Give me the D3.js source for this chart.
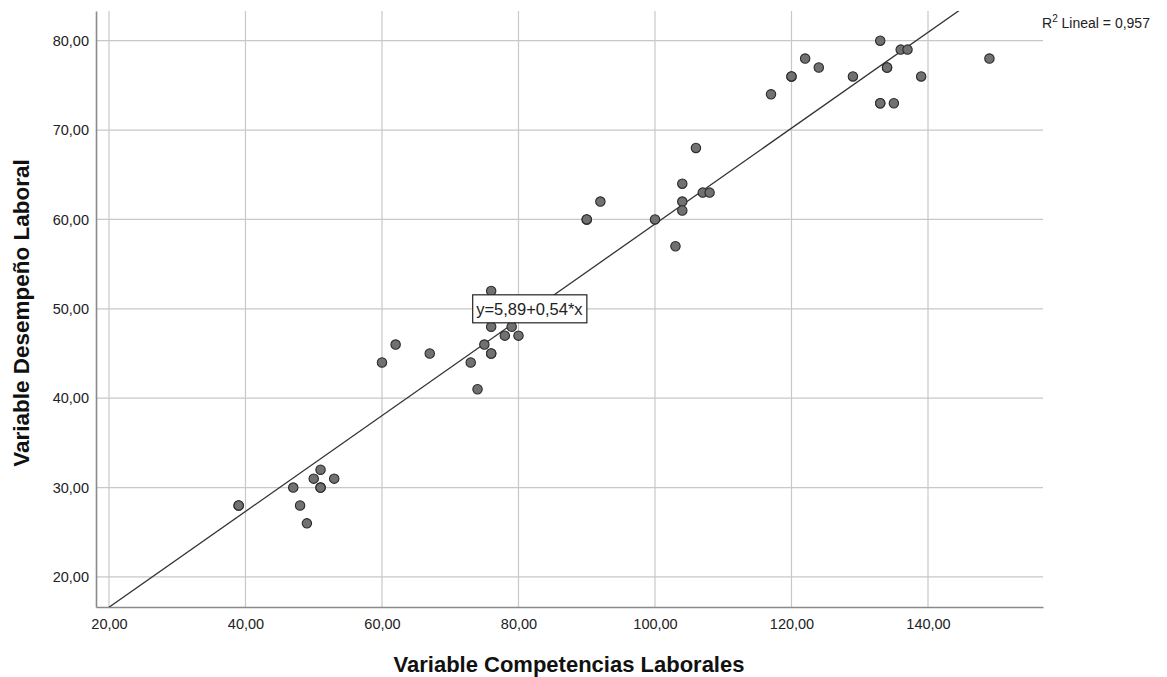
<!DOCTYPE html>
<html>
<head>
<meta charset="utf-8">
<script src="https://cdn.jsdelivr.net/npm/d3@7"></script>
<style>
  html, body { margin: 0; padding: 0; background: #fff; }
  svg { display: block; font-family: "Liberation Sans", Arial, sans-serif; }
</style>
</head>
<body>
<div id="chart"></div>
<script>
// Variable Competencias Laborales (x) vs Variable Desempeño Laboral (y)
const competencias = [39, 39, 47, 48, 49, 50, 51, 51, 51, 53,
  60, 62, 67, 73, 74, 75, 76, 76, 76, 76, 78, 79, 80,
  90, 90, 92, 100, 103, 104, 104, 104, 106, 107, 108,
  117, 120, 120, 122, 124, 129, 133, 133, 133, 134, 134, 135, 136, 137, 139, 149];
const desempeno = [28, 28, 30, 28, 26, 31, 32, 30, 30, 31,
  44, 46, 45, 44, 41, 46, 52, 48, 45, 45, 47, 48, 47,
  60, 60, 62, 60, 57, 64, 62, 61, 68, 63, 63,
  74, 76, 76, 78, 77, 76, 80, 73, 73, 77, 77, 73, 79, 79, 76, 78];

const xTicks = [20, 40, 60, 80, 100, 120, 140];
const yTicks = [20, 30, 40, 50, 60, 70, 80];

const fitIntercept = 5.89;
const fitSlope = 0.536;
const fitLabel = 'y=5,89+0,54*x';
const fitLabelAt = [81.6, 50];   // data coords of the label centre
const r2Text = ' Lineal = 0,957';

const width = 1167, height = 677;
const plot = { left: 96, right: 1043, top: 11, bottom: 607 };

const fmt = d => d3.format('.2f')(d).replace('.', ',');

const x = d3.scaleLinear().domain([18.1, 156.85]).range([plot.left, plot.right]);
const y = d3.scaleLinear().domain([16.64, 83.32]).range([plot.bottom, plot.top]);

const svg = d3.select('#chart').append('svg')
  .attr('width', width)
  .attr('height', height);

svg.append('defs').append('clipPath')
  .attr('id', 'plot-clip')
  .append('rect')
  .attr('x', plot.left)
  .attr('y', plot.top)
  .attr('width', plot.right - plot.left)
  .attr('height', plot.bottom - plot.top);

// grid
svg.append('g')
  .selectAll('line')
  .data(xTicks)
  .join('line')
  .attr('x1', d => x(d)).attr('x2', d => x(d))
  .attr('y1', plot.top).attr('y2', plot.bottom)
  .attr('stroke', '#c8c8c8')
  .attr('stroke-width', 1.2);

svg.append('g')
  .selectAll('line')
  .data(yTicks)
  .join('line')
  .attr('x1', plot.left).attr('x2', plot.right)
  .attr('y1', d => y(d)).attr('y2', d => y(d))
  .attr('stroke', '#c8c8c8')
  .attr('stroke-width', 1.2);

// axes
const xAxis = svg.append('g')
  .attr('transform', `translate(0,${plot.bottom})`)
  .call(d3.axisBottom(x).tickValues(xTicks).tickFormat(fmt).tickSize(0).tickPadding(12));
const yAxis = svg.append('g')
  .attr('transform', `translate(${plot.left},0)`)
  .call(d3.axisLeft(y).tickValues(yTicks).tickFormat(fmt).tickSize(0).tickPadding(7));

[xAxis, yAxis].forEach(g => {
  g.select('.domain').attr('stroke', '#8a8a8a').attr('stroke-width', 1.6);
  g.selectAll('text')
    .attr('fill', '#222')
    .style('font-family', '"Liberation Sans", Arial, sans-serif')
    .style('font-size', '14.5px');
});

// fit line
svg.append('line')
  .attr('clip-path', 'url(#plot-clip)')
  .attr('x1', x(20)).attr('y1', y(fitIntercept + fitSlope * 20))
  .attr('x2', x(156.85)).attr('y2', y(fitIntercept + fitSlope * 156.85))
  .attr('stroke', '#333')
  .attr('stroke-width', 1.3);

// points
svg.append('g')
  .selectAll('circle')
  .data(competencias.map((c, i) => [c, desempeno[i]]))
  .join('circle')
  .attr('cx', d => x(d[0]))
  .attr('cy', d => y(d[1]))
  .attr('r', 4.7)
  .attr('fill', '#717171')
  .attr('stroke', '#2a2a2a')
  .attr('stroke-width', 1.1);

// fit label box
const lab = svg.append('g')
  .attr('transform', `translate(${x(fitLabelAt[0])},${y(fitLabelAt[1])})`);
const labRect = lab.append('rect')
  .attr('fill', '#fff')
  .attr('stroke', '#222')
  .attr('stroke-width', 1.2);
const labText = lab.append('text')
  .attr('text-anchor', 'middle')
  .attr('dy', '0.36em')
  .attr('fill', '#222')
  .style('font-size', '16.5px')
  .text(fitLabel);
const bb = labText.node().getBBox();
labRect
  .attr('x', bb.x - 3.5)
  .attr('y', -14)
  .attr('width', bb.width + 7)
  .attr('height', 28);

// R² label
const r2 = svg.append('text')
  .attr('x', 1042)
  .attr('y', 28)
  .attr('fill', '#222')
  .style('font-size', '14px');
r2.append('tspan').text('R');
r2.append('tspan').attr('dy', -6).style('font-size', '10px').text('2');
r2.append('tspan').attr('dy', 6).text(r2Text);

// axis titles
svg.append('text')
  .attr('x', 569)
  .attr('y', 672)
  .attr('text-anchor', 'middle')
  .attr('fill', '#111')
  .style('font-size', '22px')
  .style('font-weight', 'bold')
  .text('Variable Competencias Laborales');

svg.append('text')
  .attr('transform', 'translate(29,313) rotate(-90)')
  .attr('text-anchor', 'middle')
  .attr('fill', '#111')
  .style('font-size', '22.5px')
  .style('font-weight', 'bold')
  .text('Variable Desempeño Laboral');
</script>
</body>
</html>
